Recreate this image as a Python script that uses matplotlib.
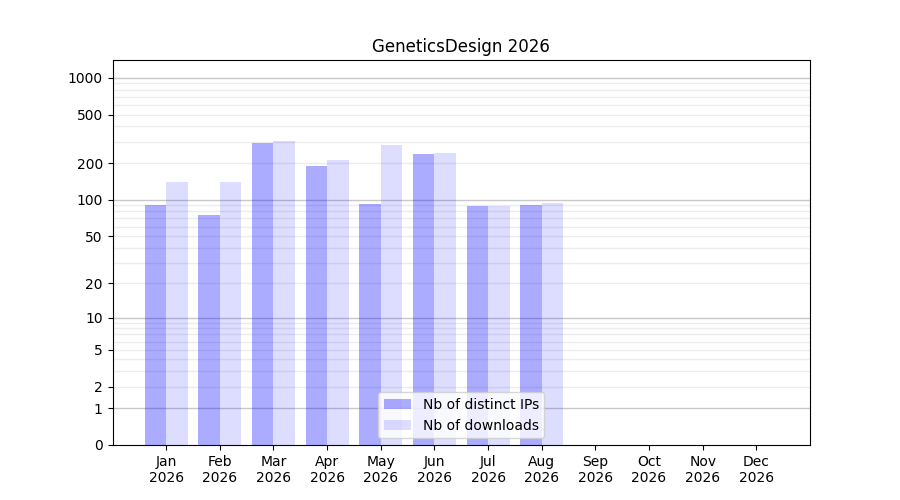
import numpy as np
import matplotlib
matplotlib.use("Agg")
import matplotlib.pyplot as plt
from matplotlib.ticker import FixedLocator, FixedFormatter

# monthly stats
months = ["Jan", "Feb", "Mar", "Apr", "May", "Jun",
          "Jul", "Aug", "Sep", "Oct", "Nov", "Dec"]
year = "2026"
distinct_ips = [91, 75, 294, 190, 93, 238, 89, 90]
downloads = [140, 140, 305, 213, 283, 243, 89, 94]

ytick_values = [0, 1, 2, 5, 10, 20, 50, 100, 200, 500, 1000]
major_grid = [1, 10, 100, 1000]
minor_grid = [m * d for d in [1, 10, 100] for m in range(2, 10)]


def fwd(y):
    return np.log10(1 + np.clip(y, 0, None))


def inv(y):
    return 10 ** y - 1


fig, ax = plt.subplots(figsize=(9, 5), dpi=100)

x = np.arange(len(months))
width = 0.4
n = len(distinct_ips)
ax.bar(x[:n] - width / 2, distinct_ips, width, color="blue", alpha=0.33,
       label="Nb of distinct IPs", zorder=2)
ax.bar(x[:n] + width / 2, downloads, width, color="blue", alpha=0.135,
       label="Nb of downloads", zorder=2)

ax.set_yscale("function", functions=(fwd, inv))
ax.set_ylim(0, 1400)
ax.set_xlim(-1, 12)

ax.yaxis.set_major_locator(FixedLocator(ytick_values))
ax.yaxis.set_major_formatter(FixedFormatter([str(v) for v in ytick_values]))
ax.yaxis.set_minor_locator(FixedLocator([]))

for v in major_grid:
    ax.axhline(v, color="#c8c8c8", linewidth=1, zorder=1)
for v in minor_grid:
    ax.axhline(v, color="#ececec", linewidth=1, zorder=1)

ax.set_xticks(x)
ax.set_xticklabels([f"{m}\n{year}" for m in months])

ax.set_title("GeneticsDesign 2026")
ax.legend(loc="lower center")

plt.savefig("out.png")
